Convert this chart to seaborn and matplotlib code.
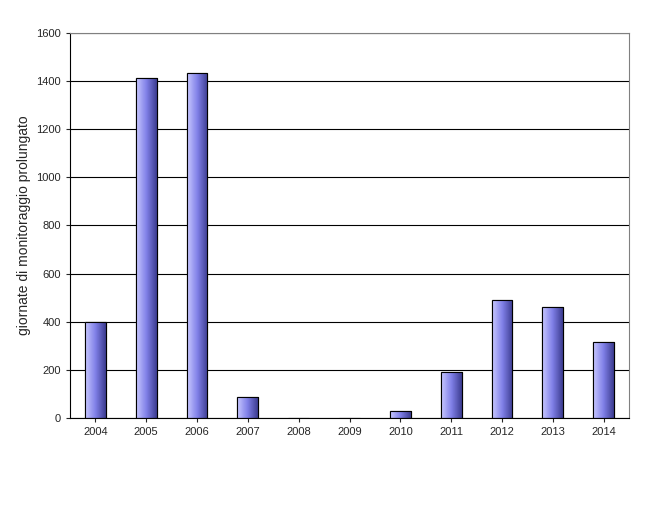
import matplotlib
matplotlib.use("Agg")
import matplotlib.pyplot as plt
import seaborn as sns
import numpy as np
import pandas as pd
from matplotlib.colors import LinearSegmentedColormap

years = ["2004","2005","2006","2007","2008","2009","2010","2011","2012","2013","2014"]
values = [400, 1413, 1434, 87, 0, 0, 29, 191, 490, 461, 316]
ylabel = "giornate di monitoraggio prolungato"

sns.set_style("white")
plt.rcParams['font.family'] = ['Liberation Sans', 'DejaVu Sans']

fig = plt.figure(figsize=(6.68, 5.07), dpi=100)
ax = fig.add_axes([0.1048, 0.1755, 0.837, 0.7595])
df = pd.DataFrame({"year": years, "v": values})
sns.barplot(data=df, x="year", y="v", ax=ax, width=0.41, color="#8080e0",
            edgecolor="black", linewidth=0.8, saturation=1)

cmap = LinearSegmentedColormap.from_list("g", ["#c8c8ff", "#8080e8", "#3c3c90"])
grad = np.linspace(0, 1, 64).reshape(1, -1)
for p in ax.patches:
    x, y = p.get_x(), p.get_y()
    w, h = p.get_width(), p.get_height()
    if h <= 0:
        continue
    im = ax.imshow(grad, extent=[x, x + w, y, y + h], aspect="auto", cmap=cmap, zorder=p.get_zorder() + 0.1)
    im.set_clip_path(p)
    ax.add_patch(plt.Rectangle((x, y), w, h, fill=False, edgecolor="black", linewidth=0.8, zorder=p.get_zorder() + 0.2))

ax.set_xlim(-0.5, 10.5)
ax.set_ylim(0, 1600)
ax.set_yticks(range(0, 1601, 200))
ax.yaxis.grid(True, color="black", linewidth=0.8)
ax.set_axisbelow(True)
ax.set_xlabel("")
ax.set_ylabel(ylabel, fontsize=10)
ax.tick_params(axis="both", labelsize=8, length=3, direction="out", left=True, bottom=True)
for s in ["top", "right"]:
    ax.spines[s].set_color("#808080")
for s in ["left", "bottom"]:
    ax.spines[s].set_color("black")
fig.savefig("out.png", dpi=100)
